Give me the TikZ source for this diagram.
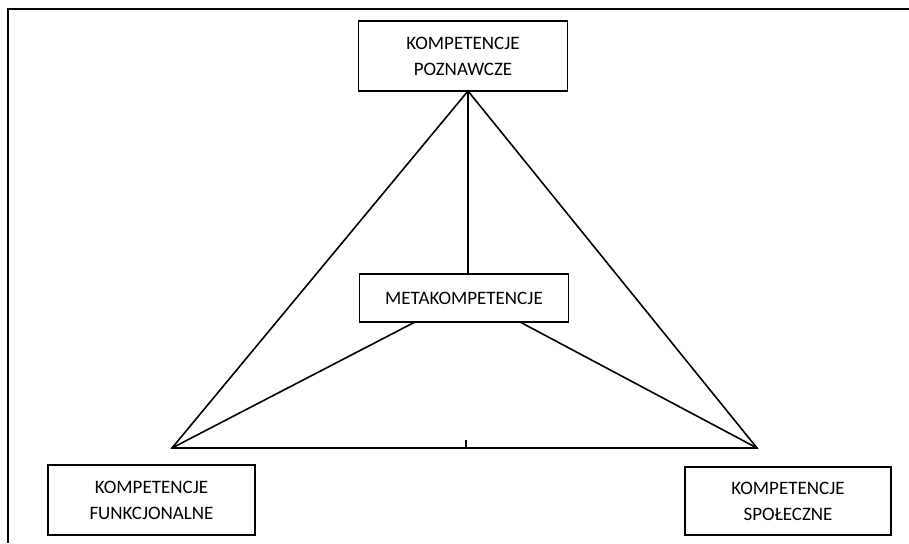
\documentclass[tikz,border=0pt]{standalone}
\usepackage{fontspec}
\setmainfont{Carlito}
\begin{document}
\begin{tikzpicture}[x=1pt,y=-1pt,
  box/.style={draw,line width=1.6pt,rectangle,inner sep=0pt,align=center,
    font=\fontsize{19}{26}\selectfont},
  conn/.style={line width=1.6pt},
  frame/.style={line width=2.2pt}]
\useasboundingbox (0,0) rectangle (909,543);
\draw[frame] (8,543) -- (8,9) -- (909,9);
\node[box,minimum width=209pt,minimum height=70pt] (top) at (463,56) {KOMPETENCJE\\POZNAWCZE};
\node[box,minimum width=209pt,minimum height=48pt] (meta) at (464,298) {METAKOMPETENCJE};
\node[box,minimum width=207pt,minimum height=70pt] (func) at (151.5,500) {KOMPETENCJE\\FUNKCJONALNE};
\node[box,minimum width=206pt,minimum height=68pt] (spol) at (788,501) {KOMPETENCJE\\SPOŁECZNE};
\coordinate (apex) at (468,91);
\coordinate (metatop) at (468,274);
\coordinate (ml) at (415,322);
\coordinate (mr) at (520,322);
\coordinate (lc) at (172,448);
\coordinate (rc) at (757,448);
\coordinate (tick) at (466,440);
\coordinate (tickb) at (466,448);
\draw[conn] (apex) -- (lc) -- (rc) -- cycle;
\draw[conn] (apex) -- (metatop);
\draw[conn] (ml) -- (lc);
\draw[conn] (mr) -- (rc);
\draw[conn] (tick) -- (tickb);
\end{tikzpicture}
\end{document}
